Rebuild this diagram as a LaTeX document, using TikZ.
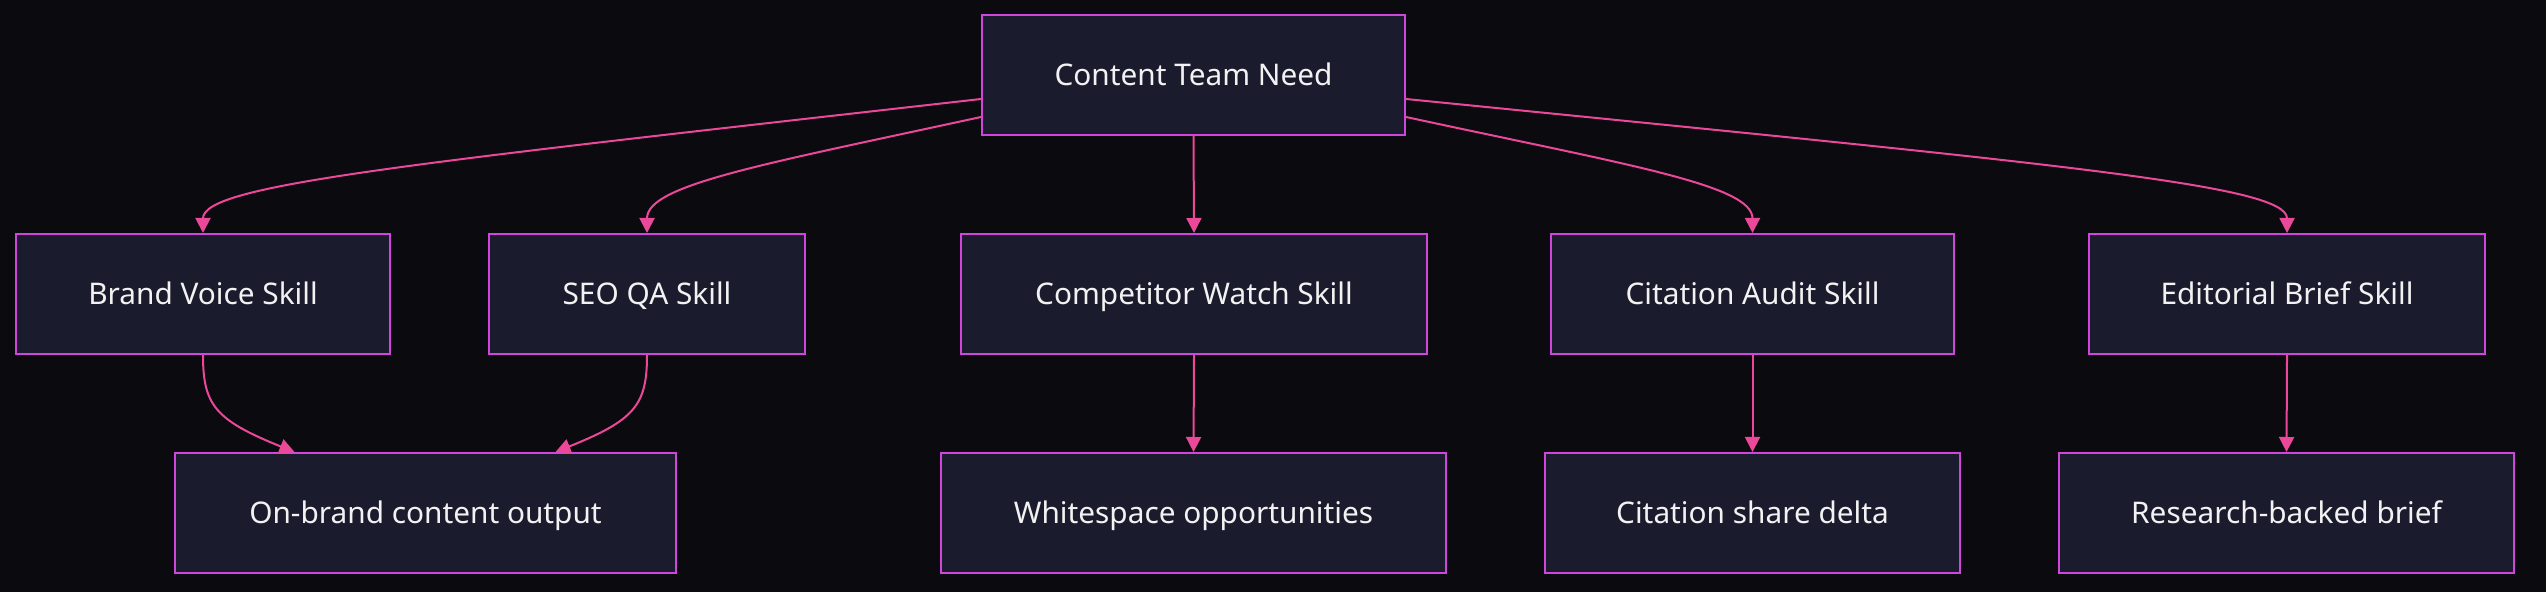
\documentclass[tikz,border=0pt]{standalone}
\usepackage{fontspec}
\setmainfont{Noto Sans}
\usetikzlibrary{arrows.meta,calc}
\definecolor{bgc}{HTML}{0A0A0F}
\definecolor{nodefill}{HTML}{1B1B2E}
\definecolor{nodeborder}{HTML}{D046DC}
\definecolor{edgec}{HTML}{EC4899}
\definecolor{txt}{HTML}{F2F2F2}
\begin{document}
\begin{tikzpicture}[x=0.5pt,y=-0.5pt,
  box/.style={draw=nodeborder,fill=nodefill,line width=1pt,inner sep=0pt,
    minimum height=60pt,text=txt,text height=10.5pt,text depth=0pt,
    font=\fontsize{14.9pt}{17pt}\selectfont},
  conn/.style={draw=edgec,line width=1pt,-{Triangle[length=7.5pt,width=7.5pt]}}]
\fill[bgc] (0,0) rectangle (2546,592);
\node[box,minimum width=211.5pt] (top) at (1193.5,75) {Content Team Need};
\node[box,minimum width=187pt] (bv) at (203,294) {Brand Voice Skill};
\node[box,minimum width=158pt] (seo) at (647,294) {SEO QA Skill};
\node[box,minimum width=233pt] (cw) at (1194,294) {Competitor Watch Skill};
\node[box,minimum width=201.5pt] (ca) at (1752.5,294) {Citation Audit Skill};
\node[box,minimum width=198pt] (eb) at (2287,294) {Editorial Brief Skill};
\node[box,minimum width=250.5pt] (ob) at (425.5,513) {On-brand content output};
\node[box,minimum width=252.5pt] (ws) at (1193.5,513) {Whitespace opportunities};
\node[box,minimum width=207.5pt] (cs) at (1752.5,513) {Citation share delta};
\node[box,minimum width=227.5pt] (rb) at (2286.5,513) {Research-backed brief};
% edges from top
\draw[conn] ($(top.west)+(0,24)$) .. controls (398,165) and (203,185) .. (bv.north);
\draw[conn] ($(top.west)+(0,42)$) .. controls (760,165) and (647,185) .. (seo.north);
\draw[conn] (top.south) -- (cw.north);
\draw[conn] ($(top.east)+(0,42)$) .. controls (1628,165) and (1752.5,185) .. (ca.north);
\draw[conn] ($(top.east)+(0,24)$) .. controls (2067,165) and (2287,185) .. (eb.north);
% second level
\draw[conn] (bv.south) .. controls (203,405) and (215,420) .. ($(ob.north)+(-131,0)$);
\draw[conn] (seo.south) .. controls (647,405) and (635,420) .. ($(ob.north)+(130,0)$);
\draw[conn] (cw.south) -- (ws.north);
\draw[conn] (ca.south) -- (cs.north);
\draw[conn] (eb.south) -- (rb.north);
\end{tikzpicture}
\end{document}
